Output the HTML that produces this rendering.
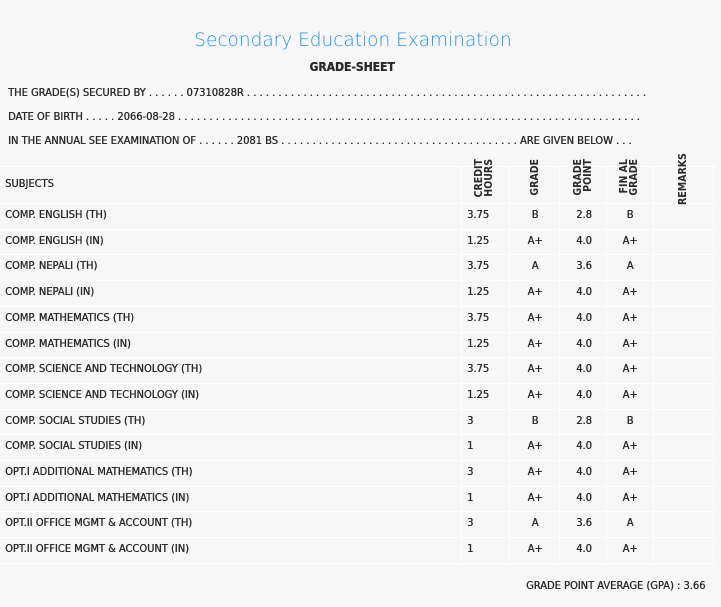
<!DOCTYPE html>
<html><head><style>
body{margin:0;width:721px;height:607px;background:#f7f7f7;font-family:"DejaVu Sans Condensed","Liberation Sans",sans-serif;color:#2a2a2a;position:relative;overflow:hidden}
.a{position:absolute;white-space:nowrap}
.t{font-size:11px;font-stretch:condensed;text-shadow:0.35px 0 0 #2a2a2a}
.h{position:absolute;height:1px;background:#fff;left:0;width:716px}
.v{position:absolute;width:1px;background:#fff;top:166px;height:396px}
.r{position:absolute;font-size:10.5px;font-weight:bold;transform:rotate(-90deg);transform-origin:left top;line-height:10px;text-align:right;width:42px}
.c{position:absolute;font-size:11px;text-align:center;width:40px}
</style></head><body>
<div class="a" style="left:0;width:706px;text-align:center;top:30px;font-size:18.5px;color:#2196f3;font-family:'DejaVu Sans','Liberation Sans',sans-serif;font-weight:200">Secondary Education Examination</div>
<div class="a t" style="left:0;width:704px;text-align:center;top:60px;font-size:12px;font-weight:bold">GRADE-SHEET</div>
<div class="a t" style="left:8px;top:86px">THE GRADE(S) SECURED BY . . . . . . 07310828R . . . . . . . . . . . . . . . . . . . . . . . . . . . . . . . . . . . . . . . . . . . . . . . . . . . . . . . . . . . . . . . .</div>
<div class="a t" style="left:8px;top:110px">DATE OF BIRTH . . . . . 2066-08-28 . . . . . . . . . . . . . . . . . . . . . . . . . . . . . . . . . . . . . . . . . . . . . . . . . . . . . . . . . . . . . . . . . . . . . . . . . .</div>
<div class="a t" style="left:8px;top:134px">IN THE ANNUAL SEE EXAMINATION OF . . . . . . 2081 BS . . . . . . . . . . . . . . . . . . . . . . . . . . . . . . . . . . . . . . ARE GIVEN BELOW . . .</div>
<div class="h" style="top:166px"></div>
<div class="h" style="top:203px"></div>
<div class="v" style="left:461px"></div><div class="v" style="left:509px"></div><div class="v" style="left:559px"></div><div class="v" style="left:606px"></div><div class="v" style="left:653px"></div><div class="v" style="left:713px"></div>
<div class="a t" style="left:5px;top:177px">SUBJECTS</div>
<div class="r" style="left:474px;top:201px">CREDIT<br>HOURS</div>
<div class="r" style="left:530px;top:201px">GRADE</div>
<div class="r" style="left:573px;top:201px">GRADE<br>POINT</div>
<div class="r" style="left:619px;top:201px">FIN AL<br>GRADE</div>
<div class="r" style="left:678px;top:205px;width:50px">REMARKS</div>
<div id="rows"></div>
<div class="a t" style="left:526px;top:579px">GRADE POINT AVERAGE (GPA) : 3.66</div>
<script>
var d=[["COMP. ENGLISH (TH)","3.75","B","2.8","B"],["COMP. ENGLISH (IN)","1.25","A+","4.0","A+"],["COMP. NEPALI (TH)","3.75","A","3.6","A"],["COMP. NEPALI (IN)","1.25","A+","4.0","A+"],["COMP. MATHEMATICS (TH)","3.75","A+","4.0","A+"],["COMP. MATHEMATICS (IN)","1.25","A+","4.0","A+"],["COMP. SCIENCE AND TECHNOLOGY (TH)","3.75","A+","4.0","A+"],["COMP. SCIENCE AND TECHNOLOGY (IN)","1.25","A+","4.0","A+"],["COMP. SOCIAL STUDIES (TH)","3","B","2.8","B"],["COMP. SOCIAL STUDIES (IN)","1","A+","4.0","A+"],["OPT.I ADDITIONAL MATHEMATICS (TH)","3","A+","4.0","A+"],["OPT.I ADDITIONAL MATHEMATICS (IN)","1","A+","4.0","A+"],["OPT.II OFFICE MGMT & ACCOUNT (TH)","3","A","3.6","A"],["OPT.II OFFICE MGMT & ACCOUNT (IN)","1","A+","4.0","A+"]];
var h="";
d.forEach(function(r,i){var y=203+i*25.7;
h+='<div class="h" style="top:'+Math.round(y+25.7)+'px"></div>';
var ty=Math.round(y+5);
h+='<div class="a t" style="left:5px;top:'+ty+'px">'+r[0].replace("&","&amp;")+'</div>';
h+='<div class="a t" style="left:467px;top:'+ty+'px">'+r[1]+'</div>';
h+='<div class="c t" style="left:515px;top:'+ty+'px">'+r[2]+'</div>';
h+='<div class="c t" style="left:564px;top:'+ty+'px">'+r[3]+'</div>';
h+='<div class="c t" style="left:610px;top:'+ty+'px">'+r[4]+'</div>';});
document.getElementById("rows").innerHTML=h;
</script>
</body></html>
